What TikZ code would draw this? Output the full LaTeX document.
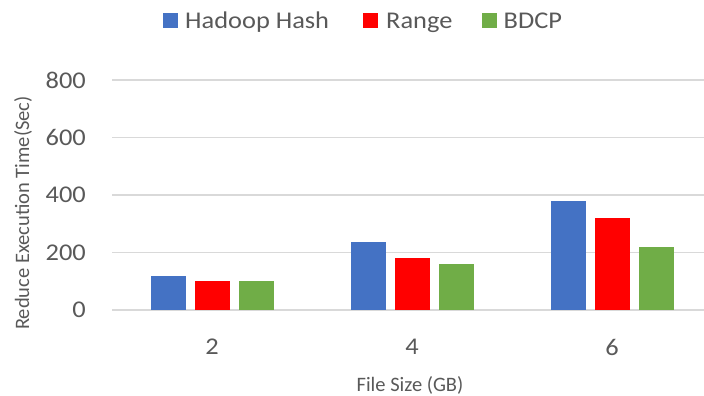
\documentclass[tikz,border=0pt]{standalone}
\usepackage{fontspec}
\setmainfont{Carlito}
\definecolor{hashblue}{HTML}{4472C4}
\definecolor{rangered}{HTML}{FF0000}
\definecolor{bdcpgreen}{HTML}{70AD47}
\definecolor{gridgray}{HTML}{D9D9D9}
\definecolor{labelgray}{HTML}{595959}
\begin{document}
\begin{tikzpicture}[
        x=1pt, y=-1pt,
        hashbar/.style={fill=hashblue},
        rangebar/.style={fill=rangered},
        bdcpbar/.style={fill=bdcpgreen},
        gridline/.style={draw=gridgray, line width=1.5pt},
        ticklabel/.style={text=labelgray, font=\fontsize{24}{28}\selectfont, inner sep=0pt, xscale=1.1},
        axistitle/.style={text=labelgray, font=\fontsize{20.5}{24}\selectfont, inner sep=0pt},
        keybox/.style={minimum size=15pt, inner sep=0pt},
    ]
    \useasboundingbox (0,0) rectangle (704,396);
    % grid and value axis
    \foreach \v in {0,200,400,600,800}{
        \draw[gridline] (112,{310-0.2875*\v}) -- (704,{310-0.2875*\v});
        \node[ticklabel, anchor=east](y\v) at (86,{310-0.2875*\v}){\v};
    }
    % bars per file size
    \foreach \c/\s/\h/\r/\g in {212/2/120/100/100, 412/4/235/180/160, 612/6/380/320/220}{
        \fill[hashbar] ({\c-61.5},310) rectangle ({\c-26.5},{310-0.2875*\h});
        \fill[rangebar] ({\c-17.5},310) rectangle ({\c+17.5},{310-0.2875*\r});
        \fill[bdcpbar] ({\c+26.5},310) rectangle ({\c+61.5},{310-0.2875*\g});
        \node[ticklabel](x\s) at (\c,347){\s};
    }
    % axis titles
    \node[axistitle, rotate=90](ytitle) at (23,213){Reduce Execution Time(Sec)};
    \node[axistitle, anchor=base](xtitle) at (410,391){File Size (GB)};
    % legend
    \node[keybox, hashbar](khash) at (170.5,20.8){};
    \node[ticklabel, anchor=base west](lhash) at (185,28.3){Hadoop Hash};
    \node[keybox, rangebar](krange) at (370.5,20.8){};
    \node[ticklabel, anchor=base west](lrange) at (386,28.3){Range};
    \node[keybox, bdcpbar](kbdcp) at (489,20.8){};
    \node[ticklabel, anchor=base west](lbdcp) at (503.5,28.3){BDCP};
\end{tikzpicture}
\end{document}
